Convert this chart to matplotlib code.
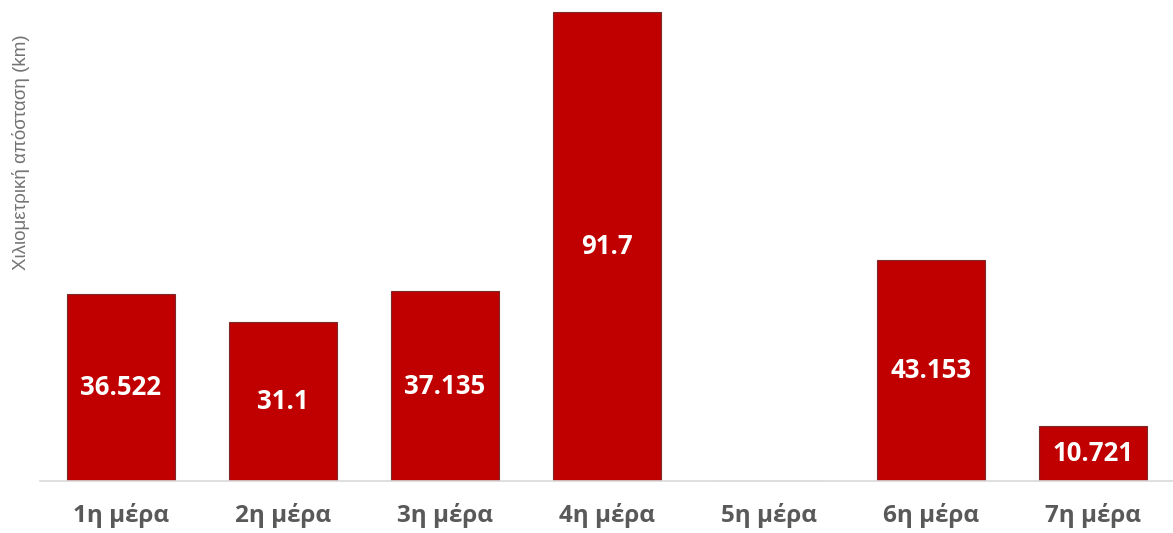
import matplotlib
matplotlib.use("Agg")
import matplotlib.pyplot as plt
import numpy as np

categories = ["1η μέρα", "2η μέρα", "3η μέρα", "4η μέρα", "5η μέρα", "6η μέρα", "7η μέρα"]
distances = [36.522, 31.1, 37.135, 91.7, 0, 43.153, 10.721]
value_labels = ["36.522", "31.1", "37.135", "91.7", "", "43.153", "10.721"]
y_label = "Χιλιομετρική απόσταση (km)"

fig = plt.figure(figsize=(11.73, 5.33), dpi=100)
ax = fig.add_axes([40 / 1173, 1 - 481 / 533, 1134 / 1173, 481 / 533])

x = np.arange(len(categories))
bars = ax.bar(x, distances, width=0.667, color="#C00000", edgecolor="#7a2a2a", linewidth=0.8, zorder=2)

for b, lab in zip(bars, value_labels):
    if lab:
        ax.text(b.get_x() + b.get_width() / 2, b.get_height() / 2, lab,
                ha="center", va="center", color="white", fontsize=18.5,
                fontweight="bold", family=["Open Sans", "DejaVu Sans"], zorder=3)

ax.set_xlim(-0.5, len(categories) - 0.5)
ax.set_ylim(0, 94.05)
ax.set_xticks(x)
ax.set_xticklabels(categories, fontsize=17.5, fontweight="bold", color="#595959",
                   family=["Open Sans", "DejaVu Sans"])
ax.tick_params(axis="x", length=0, pad=16)
ax.set_yticks([])
for s in ["top", "right", "left"]:
    ax.spines[s].set_visible(False)
ax.spines["bottom"].set_color("#d9d9d9")
ax.spines["bottom"].set_linewidth(1.2)

fig.text(21 / 1173, 1 - 152 / 533, y_label, rotation=90, ha="center", va="center",
         fontsize=13.5, color="#737373", family=["Liberation Sans", "DejaVu Sans"])

fig.savefig("out.png", dpi=100)
